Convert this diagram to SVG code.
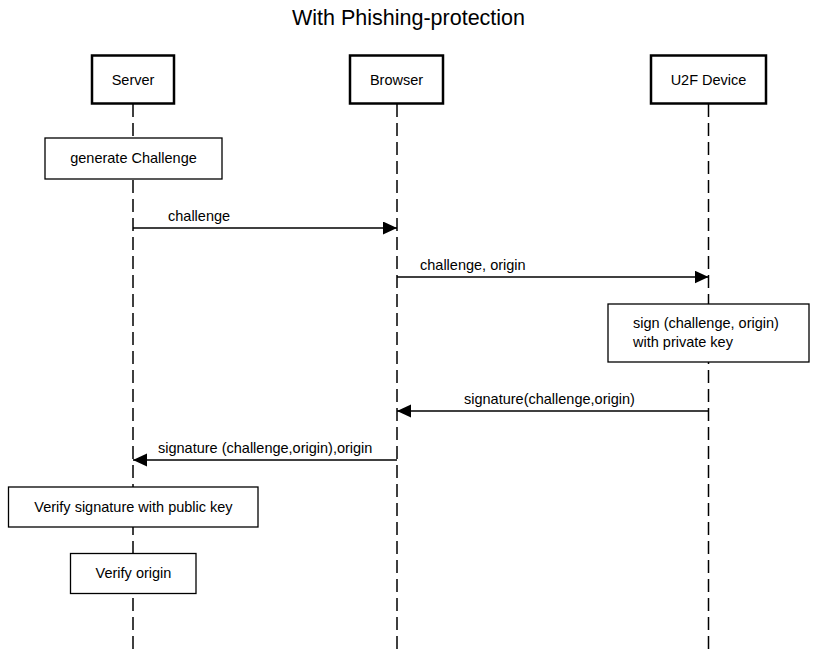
<svg xmlns="http://www.w3.org/2000/svg" width="817" height="655" viewBox="0 0 817 655">
<style>
text{font-family:"Liberation Sans",Arial,Helvetica,sans-serif;fill:#000}
.t{font-size:14.5px}
.c{text-anchor:middle}
.actor{fill:#fff;stroke:#000;stroke-width:2.5}
.note{fill:#fff;stroke:#000;stroke-width:1.3}
.life{stroke:#000;stroke-width:1.5;stroke-dasharray:13 6;fill:none}
.msg{stroke:#000;stroke-width:1.5;fill:none;marker-end:url(#ah)}
</style>
<defs>
<marker id="ah" markerUnits="userSpaceOnUse" markerWidth="15" markerHeight="14" refX="14" refY="6.5" orient="auto">
<path d="M0,0 L14,6.5 L0,13 z" fill="#000"/>
</marker>
</defs>
<rect width="817" height="655" fill="#fff"/>
<text x="408.5" y="25" class="c" style="font-size:21.5px">With Phishing-protection</text>
<g id="lifelines">
<line class="life" x1="133" y1="104" x2="133" y2="655"/>
<line class="life" x1="397" y1="104" x2="397" y2="655"/>
<line class="life" x1="708.5" y1="104" x2="708.5" y2="655"/>
</g>
<g id="server"><rect class="actor" x="92" y="55.5" width="82" height="48"/><text class="t c" x="133" y="85">Server</text></g>
<g id="browser"><rect class="actor" x="350" y="55.5" width="93" height="48"/><text class="t c" x="396.5" y="85">Browser</text></g>
<g id="u2f"><rect class="actor" x="651" y="55.5" width="115" height="48"/><text class="t c" x="708.5" y="85">U2F Device</text></g>
<g id="gen"><rect class="note" x="45" y="138" width="177" height="41"/><text class="t c" x="133.5" y="163">generate Challenge</text></g>
<g id="sign"><rect class="note" x="608" y="304" width="201" height="58"/><text class="t" x="633" y="328">sign (challenge, origin)</text><text class="t" x="633" y="347">with private key</text></g>
<g id="verifysig"><rect class="note" x="8.5" y="487" width="249.5" height="40"/><text class="t c" x="133.5" y="512">Verify signature with public key</text></g>
<g id="verifyorigin"><rect class="note" x="70.5" y="553.5" width="125.5" height="40"/><text class="t c" x="133.5" y="578">Verify origin</text></g>
<g id="connectors">
<line class="msg" x1="133" y1="228" x2="397" y2="228"/>
<text class="t" x="168" y="221">challenge</text>
<line class="msg" x1="397" y1="277" x2="708.5" y2="277"/>
<text class="t" x="420" y="270">challenge, origin</text>
<line class="msg" x1="708.5" y1="411" x2="397" y2="411"/>
<text class="t" x="464" y="404">signature(challenge,origin)</text>
<line class="msg" x1="397" y1="460" x2="133" y2="460"/>
<text class="t" x="158" y="453">signature (challenge,origin),origin</text>
</g>
</svg>
